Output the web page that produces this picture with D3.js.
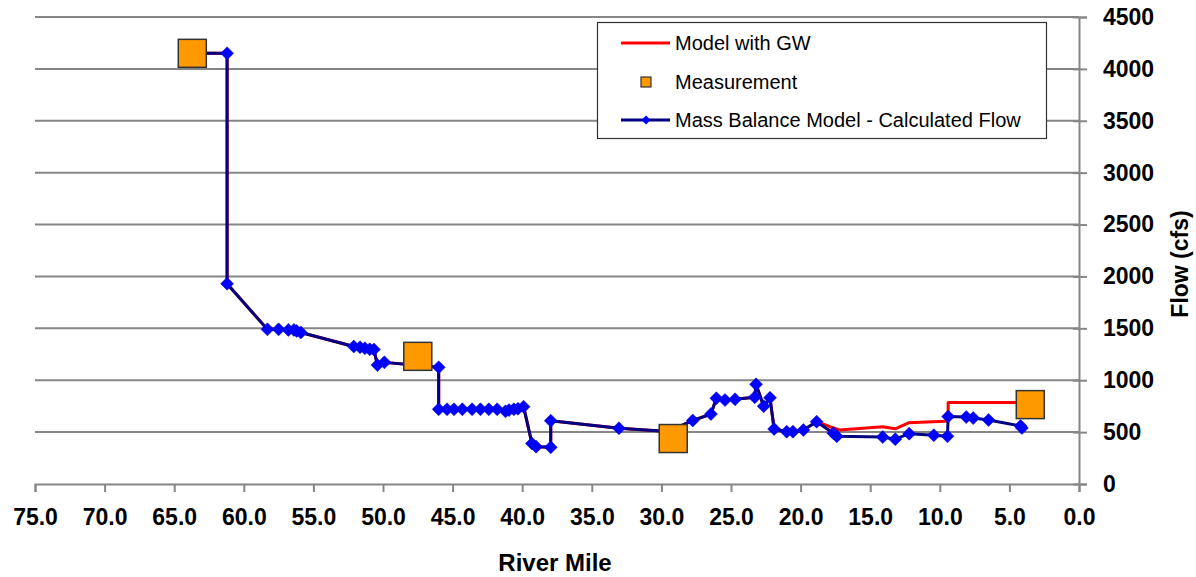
<!DOCTYPE html>
<html><head><meta charset="utf-8">
<script src="https://cdn.jsdelivr.net/npm/d3@7"></script>
<style>body{margin:0;background:#fff}svg{display:block;font-family:"Liberation Sans",Arial,sans-serif}</style>
</head><body><svg id="c" width="1196" height="577"></svg>
<script>
// Mass Balance Model - Calculated Flow
const massMiles = [63.7,61.2,61.2,58.3,57.5,56.8,56.4,56.2,55.9,52.1,51.65,51.3,50.95,50.65,50.4,49.9,46.0,46.0,45.4,44.9,44.3,43.6,43.0,42.4,41.8,41.2,40.95,40.6,40.3,39.9,39.3,39.0,37.95,37.95,33.05,29.5,27.75,26.44,26.05,25.43,24.71,23.3,23.2,22.65,22.2,21.9,21.0,20.55,19.8,18.85,17.65,17.4,14.1,13.2,12.2,10.43,9.45,9.4,8.1,7.6,6.5,4.2,4.1];
const massFlow  = [4150,4150,1930,1490,1490,1485,1485,1475,1460,1325,1318,1308,1298,1295,1146,1172,1124,720,720,720,720,720,720,720,720,700,712,720,725,745,390,360,353,610,537,505,612,674,826,809,816,835,960,750,830,530,504,504,520,600,490,460,452,432,485,470,460,650,645,635,617,560,540];
// Model with GW (follows mass balance upstream, diverges below RM 19)
const gwMiles = [63.7,61.2,61.2,58.3,57.5,56.8,56.4,56.2,55.9,52.1,51.65,51.3,50.95,50.65,50.4,49.9,46.0,46.0,45.4,44.9,44.3,43.6,43.0,42.4,41.8,41.2,40.95,40.6,40.3,39.9,39.3,39.0,37.95,37.95,33.05,29.5,27.75,26.44,26.05,25.43,24.71,23.3,23.2,22.65,22.2,21.9,21.0,20.55,19.8,18.85,17.9,17.2,14.1,13.2,12.25,9.6,9.4,9.4,3.5];
const gwFlow  = [4150,4150,1930,1490,1490,1485,1485,1475,1460,1325,1318,1308,1298,1295,1146,1172,1124,720,720,720,720,720,720,720,720,700,712,720,725,745,390,360,353,610,537,505,612,674,826,809,816,835,960,750,830,530,504,504,520,600,552,520,552,532,590,605,605,785,785];
// Measurements
const measMiles = [63.7,47.5,29.15,3.5];
const measFlow  = [4150,1230,438,765];
// Ticks
const xTicks = [75,70,65,60,55,50,45,40,35,30,25,20,15,10,5,0];
const yTicks = [0,500,1000,1500,2000,2500,3000,3500,4000,4500];
const legendLabels = ["Model with GW","Measurement","Mass Balance Model - Calculated Flow"];

const svg = d3.select("#c");
const x = d3.scaleLinear().domain([75,0]).range([35,1079]);
const y = d3.scaleLinear().domain([0,4500]).range([484,17]);

// gridlines
svg.append("g").selectAll("line").data(yTicks.filter(d=>d>0)).join("line")
  .attr("x1",x(75)).attr("x2",x(0)).attr("y1",d=>y(d)).attr("y2",d=>y(d))
  .attr("stroke","#868686").attr("stroke-width",2);

// x axis
const xa = svg.append("g").attr("transform",`translate(0,${y(0)})`)
  .call(d3.axisBottom(x).tickValues(xTicks).tickSize(8).tickPadding(17).tickFormat(d3.format(".1f")));
xa.select(".domain").attr("stroke","#868686").attr("stroke-width",2);
xa.selectAll(".tick line").attr("stroke","#868686").attr("stroke-width",2);
xa.selectAll("text").attr("font-size",23).attr("font-weight","bold").attr("fill","#000")
  .attr("font-family",'"Liberation Sans",Arial,sans-serif');

// y axis (right)
const ya = svg.append("g").attr("transform",`translate(${x(0)},0)`)
  .call(d3.axisRight(y).tickValues(yTicks).tickSize(8).tickPadding(16).tickFormat(d3.format("d")));
ya.select(".domain").attr("stroke","#868686").attr("stroke-width",2);
ya.selectAll(".tick line").attr("stroke","#868686").attr("stroke-width",2).attr("x1",-6);
ya.selectAll("text").attr("font-size",23).attr("font-weight","bold").attr("fill","#000")
  .attr("font-family",'"Liberation Sans",Arial,sans-serif');

// axis titles
svg.append("text").attr("x",555).attr("y",571).attr("text-anchor","middle")
  .attr("font-size",24).attr("font-weight","bold").text("River Mile");
svg.append("text").attr("transform","translate(1188,264) rotate(-90)").attr("text-anchor","middle")
  .attr("font-size",23).attr("font-weight","bold").text("Flow (cfs)");

const line = d3.line().x(d=>x(d[0])).y(d=>y(d[1]));
const gw = gwMiles.map((m,i)=>[m,gwFlow[i]]);
const mb = massMiles.map((m,i)=>[m,massFlow[i]]);
const ms = measMiles.map((m,i)=>[m,measFlow[i]]);

svg.append("path").attr("d",line(gw)).attr("fill","none").attr("stroke","#ff0000").attr("stroke-width",3).attr("stroke-linejoin","round");
svg.append("path").attr("d",line(mb)).attr("fill","none").attr("stroke","#000080").attr("stroke-width",3).attr("stroke-linejoin","round");
svg.append("g").selectAll("path").data(mb).join("path")
  .attr("transform",d=>`translate(${x(d[0])},${y(d[1])})`)
  .attr("d","M0,-6.5L6.5,0L0,6.5L-6.5,0Z").attr("fill","#0000ff").attr("stroke","#0000cc").attr("stroke-width",0.5);
svg.append("g").selectAll("rect").data(ms).join("rect")
  .attr("x",d=>x(d[0])-14).attr("y",d=>y(d[1])-14).attr("width",28).attr("height",28)
  .attr("fill","#ff9900").attr("stroke","#333").attr("stroke-width",1.5);

// legend
const lg = svg.append("g");
lg.append("rect").attr("x",597.5).attr("y",22.5).attr("width",449).attr("height",116)
  .attr("fill","#fff").attr("stroke","#333").attr("stroke-width",1.2);
const ly = [43,82,120];
lg.append("line").attr("x1",621).attr("x2",670).attr("y1",ly[0]).attr("y2",ly[0]).attr("stroke","#ff0000").attr("stroke-width",3);
lg.append("rect").attr("x",641).attr("y",ly[1]-5).attr("width",10).attr("height",10).attr("fill","#ff9900").attr("stroke","#333").attr("stroke-width",1.2);
lg.append("line").attr("x1",621).attr("x2",670).attr("y1",ly[2]).attr("y2",ly[2]).attr("stroke","#000080").attr("stroke-width",3);
lg.append("path").attr("transform",`translate(646,${ly[2]})`).attr("d","M0,-4.5L4.5,0L0,4.5L-4.5,0Z").attr("fill","#0000ff");
lg.selectAll("text.l").data(legendLabels).join("text").attr("class","l")
  .attr("x",675).attr("y",(d,i)=>ly[i]).attr("dy","0.36em").attr("font-size",20).attr("fill","#000").text(d=>d);
</script></body></html>
